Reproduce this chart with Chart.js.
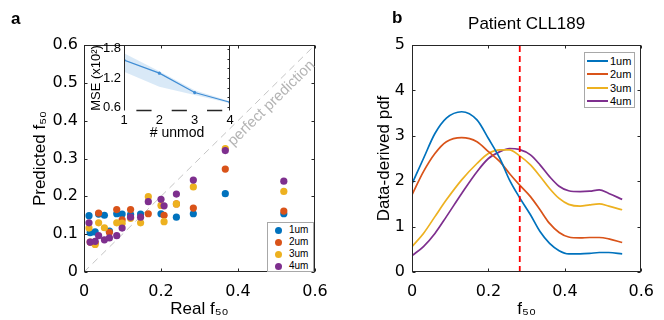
<!DOCTYPE html>
<html>
<head>
<meta charset="utf-8">
<script src="https://cdn.jsdelivr.net/npm/chart.js@4/dist/chart.umd.min.js"></script>
<style>
  html, body { margin: 0; padding: 0; background: #fff; }
  #wrap { position: relative; width: 664px; height: 320px; overflow: hidden; font-family: 'Liberation Sans', Arial, sans-serif; }
  canvas { position: absolute; }
  .panel { position: absolute; font-weight: bold; font-size: 17px; line-height: 17px; color: #000; }
  .legend { position: absolute; background: #fff; border: 1px solid #a8a8a8; box-sizing: border-box; }
  .legend .row { position: absolute; left: 0; right: 0; height: 12px; }
  .legend .mark { position: absolute; }
  .legend .txt { position: absolute; color: #000; white-space: nowrap; }
</style>
</head>
<body>
<div id="wrap">
  <canvas id="scatterChart" width="340" height="320" style="left:0;top:0"></canvas>
  <canvas id="insetChart" width="240" height="150" style="left:0;top:0"></canvas>
  <canvas id="pdfChart" width="324" height="320" style="left:340px;top:0"></canvas>
  <div class="panel" style="left:11px;top:10px">a</div>
  <div class="panel" style="left:392px;top:9px">b</div>
  <div class="legend" id="scatterLegend" style="left:267px;top:222px;width:47px;height:50px"></div>
  <div class="legend" id="pdfLegend" style="left:584px;top:52px;width:51px;height:56px"></div>
</div>
<script>
// ---- panel a: real vs predicted f50 ----
const realF50 = [0.013, 0.016, 0.029, 0.038, 0.053, 0.066, 0.085, 0.099, 0.121, 0.147, 0.167, 0.200, 0.208, 0.240, 0.284, 0.367, 0.519];
const pred1um = [0.149, 0.104, 0.106, 0.153, 0.150, 0.108, 0.154, 0.153, 0.152, 0.153, null, 0.154, null, 0.145, 0.154, 0.207, 0.154];
const pred2um = [null, 0.079, 0.076, 0.156, null, 0.105, 0.165, 0.138, 0.165, null, 0.154, null, 0.150, 0.180, 0.169, 0.272, 0.161];
const pred3um = [0.116, null, 0.073, 0.130, 0.117, null, 0.130, 0.129, 0.142, 0.130, 0.199, 0.176, 0.133, 0.180, 0.225, 0.326, 0.213];
const pred4um = [0.130, 0.079, 0.081, 0.096, 0.085, 0.090, 0.096, 0.116, 0.145, 0.145, 0.186, 0.192, 0.175, 0.206, 0.243, 0.321, 0.240];
const perfectLine = [0, 0.6];

const seriesLabels = ['1um', '2um', '3um', '4um'];
const seriesColors = ['#0072BD', '#D95319', '#EDB120', '#7E2F8E'];

// inset: MSE vs number of unmodified
const unmodCount = [1, 2, 3, 4];
const mseMean = [1.57, 1.30, 0.90, 0.70];
const mseUpper = [1.71, 1.34, 0.95, 0.72];
const mseLower = [1.33, 1.02, 0.85, 0.68];
const mseTicks = [0.6, 1.2, 1.8];
const mseMinorTicks = [0.6, 0.8, 1.0, 1.2, 1.4, 1.6, 1.8];

// ---- panel b: data-derived pdf ----
const pdfX = [0, 0.03, 0.06, 0.09, 0.13, 0.17, 0.20, 0.23, 0.255, 0.28, 0.31, 0.335, 0.36, 0.385, 0.41, 0.44, 0.465, 0.49, 0.515, 0.55];
const pdf1um = [1.94, 2.50, 3.05, 3.39, 3.53, 3.35, 2.94, 2.50, 2.03, 1.66, 1.26, 0.89, 0.63, 0.47, 0.40, 0.40, 0.41, 0.43, 0.43, 0.40];
const pdf2um = [1.70, 2.21, 2.61, 2.87, 2.96, 2.87, 2.65, 2.43, 2.17, 1.93, 1.66, 1.37, 1.07, 0.87, 0.77, 0.75, 0.76, 0.76, 0.73, 0.65];
const pdf3um = [0.56, 0.85, 1.22, 1.59, 2.03, 2.39, 2.61, 2.69, 2.69, 2.57, 2.36, 2.11, 1.84, 1.62, 1.49, 1.45, 1.48, 1.50, 1.45, 1.37];
const pdf4um = [0.36, 0.56, 0.85, 1.22, 1.73, 2.21, 2.50, 2.65, 2.72, 2.70, 2.58, 2.36, 2.10, 1.89, 1.79, 1.77, 1.78, 1.81, 1.73, 1.60];
const patientF50 = 0.282;

Chart.defaults.font.family = "'Liberation Sans', Arial, 'DejaVu Sans', sans-serif";
Chart.defaults.color = '#000';
const tickFont = { family: "'DejaVu Sans', sans-serif", size: 16 };

function toPoints(xs, ys) {
  return xs.map((x, i) => ({ x, y: ys[i] })).filter((p) => p.y !== null);
}

// closed box with short inward ticks, like matlab axes
const boxAxes = {
  id: 'boxAxes',
  afterDatasetsDraw(chart) {
    const { ctx, chartArea: a, scales } = chart;
    const len = 3;
    const L = Math.round(a.left) + 0.5, R = Math.round(a.right) - 0.5;
    const T = Math.round(a.top) + 0.5, B = Math.round(a.bottom) - 0.5;
    ctx.save();
    ctx.strokeStyle = '#262626';
    ctx.lineWidth = 1;
    ctx.beginPath();
    scales.x.ticks.forEach((t) => {
      const px = Math.round(scales.x.getPixelForValue(t.value)) + 0.5;
      ctx.moveTo(px, B); ctx.lineTo(px, B - len);
      ctx.moveTo(px, T); ctx.lineTo(px, T + len);
    });
    scales.y.ticks.forEach((t) => {
      const py = Math.round(scales.y.getPixelForValue(t.value)) + 0.5;
      ctx.moveTo(L, py); ctx.lineTo(L + len, py);
      ctx.moveTo(R, py); ctx.lineTo(R - len, py);
    });
    ctx.stroke();
    ctx.strokeRect(L, T, R - L, B - T);
    ctx.restore();
  }
};

const diagonalLabel = {
  id: 'diagonalLabel',
  afterDatasetsDraw(chart) {
    const { ctx, scales } = chart;
    const x0 = scales.x.getPixelForValue(0), y0 = scales.y.getPixelForValue(0);
    const x1 = scales.x.getPixelForValue(0.6), y1 = scales.y.getPixelForValue(0.6);
    const angle = Math.atan2(y1 - y0, x1 - x0);
    ctx.save();
    ctx.translate(scales.x.getPixelForValue(0.487), scales.y.getPixelForValue(0.446));
    ctx.rotate(angle);
    ctx.font = "15px 'Liberation Sans', Arial, sans-serif";
    ctx.fillStyle = '#b4b4b4';
    ctx.textAlign = 'center';
    ctx.textBaseline = 'middle';
    ctx.fillText('perfect prediction', 0, 0);
    ctx.restore();
  }
};

const predSeries = [pred1um, pred2um, pred3um, pred4um];

new Chart(document.getElementById('scatterChart'), {
  type: 'scatter',
  data: {
    datasets: [
      {
        label: 'perfect',
        type: 'line',
        data: toPoints(perfectLine, perfectLine),
        borderColor: '#c4c4c4',
        borderWidth: 1,
        borderDash: [7, 5],
        pointRadius: 0,
        order: 10
      },
      ...predSeries.map((ys, i) => ({
        label: seriesLabels[i],
        data: toPoints(realF50, ys),
        backgroundColor: seriesColors[i],
        borderWidth: 0,
        pointRadius: 3.6,
        order: 4 - i
      }))
    ]
  },
  options: {
    responsive: false,
    animation: false,
    events: [],
    layout: { padding: { top: 45, right: 25, bottom: 0, left: 0 } },
    plugins: { legend: { display: false }, tooltip: { enabled: false } },
    scales: {
      x: {
        type: 'linear', min: 0, max: 0.6,
        afterFit(s) { s.height = 48; },
        ticks: { stepSize: 0.2, padding: 10, font: tickFont, color: '#000' },
        grid: { display: false, drawTicks: false },
        border: { display: false },
        title: { display: true, text: 'Real f₅₀', font: { size: 17 }, color: '#000', padding: { top: 0, bottom: 0 } }
      },
      y: {
        min: 0, max: 0.6,
        afterFit(s) { s.width = 84; },
        ticks: { stepSize: 0.1, padding: 6, font: tickFont, color: '#000' },
        grid: { display: false, drawTicks: false },
        border: { display: false },
        title: { display: true, text: 'Predicted f₅₀', font: { size: 17 }, color: '#000', padding: { top: 30, bottom: 0 } }
      }
    }
  },
  plugins: [boxAxes, diagonalLabel]
});

// inset axes: left, right, top lines, minor ticks on the right and a broken bottom line
const insetFrame = {
  id: 'insetFrame',
  afterDatasetsDraw(chart) {
    const { ctx, chartArea: a, scales } = chart;
    const L = Math.round(a.left) + 0.5, R = Math.round(a.right) - 0.5;
    const T = Math.round(a.top) + 0.5, B = Math.round(a.bottom) - 0.5;
    ctx.save();
    ctx.strokeStyle = '#262626';
    ctx.lineWidth = 1;
    ctx.beginPath();
    ctx.moveTo(L, B); ctx.lineTo(L, T); ctx.lineTo(R, T); ctx.lineTo(R, B);
    mseMinorTicks.forEach((v) => {
      const py = Math.round(scales.y.getPixelForValue(v)) + 0.5;
      ctx.moveTo(R, py); ctx.lineTo(R - 2, py);
    });
    ctx.stroke();
    ctx.lineWidth = 1.5;
    ctx.beginPath();
    [1, 2, 3].forEach((k) => {
      ctx.moveTo(scales.x.getPixelForValue(k + 0.35), B);
      ctx.lineTo(scales.x.getPixelForValue(k + 0.78), B);
    });
    ctx.stroke();
    ctx.restore();
  }
};

new Chart(document.getElementById('insetChart'), {
  type: 'line',
  data: {
    datasets: [
      {
        label: 'upper',
        data: toPoints(unmodCount, mseUpper),
        borderWidth: 0,
        pointRadius: 0,
        backgroundColor: 'rgba(120, 175, 225, 0.28)',
        fill: '+1',
        tension: 0
      },
      {
        label: 'lower',
        data: toPoints(unmodCount, mseLower),
        borderWidth: 0,
        pointRadius: 0,
        fill: false,
        tension: 0
      },
      {
        label: 'mean',
        data: toPoints(unmodCount, mseMean),
        borderColor: '#2a7fcf',
        backgroundColor: '#2a7fcf',
        borderWidth: 1.2,
        pointRadius: 1,
        fill: false,
        tension: 0
      }
    ]
  },
  options: {
    responsive: false,
    animation: false,
    events: [],
    layout: { padding: { top: 45, right: 10, bottom: 0, left: 0 } },
    plugins: { legend: { display: false }, tooltip: { enabled: false } },
    scales: {
      x: {
        type: 'linear', min: 1, max: 4,
        afterFit(s) { s.height = 39; },
        ticks: { stepSize: 1, padding: 2, font: { size: 13 }, color: '#000' },
        grid: { display: false, drawTicks: false },
        border: { display: false },
        title: { display: true, text: '# unmod', font: { size: 14 }, color: '#000', padding: { top: 0, bottom: 8 } }
      },
      y: {
        min: 0.52, max: 1.88,
        afterFit(s) { s.width = 124; },
        afterBuildTicks(s) { s.ticks = mseTicks.map((v) => ({ value: v })); },
        ticks: { padding: 3, font: { size: 13 }, color: '#000', callback: (v) => v.toFixed(1) },
        grid: { display: false, drawTicks: false },
        border: { display: false },
        title: { display: true, text: 'MSE (x10²)', font: { size: 13 }, color: '#000', padding: { top: 89, bottom: 0 } }
      }
    }
  },
  plugins: [insetFrame]
});

const pdfSeries = [pdf1um, pdf2um, pdf3um, pdf4um];

new Chart(document.getElementById('pdfChart'), {
  type: 'line',
  data: {
    datasets: [
      {
        label: 'patient',
        data: [{ x: patientF50, y: 0 }, { x: patientF50, y: 5 }],
        borderColor: '#ff0000',
        borderWidth: 1.8,
        borderDash: [6, 4],
        pointRadius: 0,
        order: 0
      },
      ...pdfSeries.map((ys, i) => ({
        label: seriesLabels[i],
        data: toPoints(pdfX, ys),
        borderColor: seriesColors[i],
        borderWidth: 1.7,
        pointRadius: 0,
        cubicInterpolationMode: 'monotone',
        fill: false,
        order: i + 1
      }))
    ]
  },
  options: {
    responsive: false,
    animation: false,
    events: [],
    layout: { padding: { top: 0, right: 22, bottom: 0, left: 0 } },
    plugins: {
      legend: { display: false },
      tooltip: { enabled: false },
      title: {
        display: true,
        fullSize: false,
        text: 'Patient CLL189',
        font: { size: 17, weight: 'normal' },
        color: '#000',
        padding: { top: 14, bottom: 10.6 }
      }
    },
    scales: {
      x: {
        type: 'linear', min: 0, max: 0.6,
        afterFit(s) { s.height = 48; },
        ticks: { stepSize: 0.2, padding: 10, font: tickFont, color: '#000' },
        grid: { display: false, drawTicks: false },
        border: { display: false },
        title: { display: true, text: 'f₅₀', font: { size: 17 }, color: '#000', padding: { top: 0, bottom: 0 } }
      },
      y: {
        min: 0, max: 5,
        afterFit(s) { s.width = 72; },
        ticks: { stepSize: 1, padding: 7, font: tickFont, color: '#000' },
        grid: { display: false, drawTicks: false },
        border: { display: false },
        title: { display: true, text: 'Data-derived pdf', font: { size: 17 }, color: '#000', padding: { top: 34, bottom: 0 } }
      }
    }
  },
  plugins: [boxAxes]
});

// html legends
function buildLegend(id, rowTops, drawMark, fontSize, textLeft) {
  const box = document.getElementById(id);
  seriesLabels.forEach((label, i) => {
    const row = document.createElement('div');
    row.className = 'row';
    row.style.top = rowTops[i] + 'px';
    const mark = document.createElement('div');
    mark.className = 'mark';
    drawMark(mark, seriesColors[i]);
    const txt = document.createElement('div');
    txt.className = 'txt';
    txt.style.left = textLeft + 'px';
    txt.style.fontSize = fontSize + 'px';
    txt.style.lineHeight = '12px';
    txt.textContent = label;
    row.appendChild(mark);
    row.appendChild(txt);
    box.appendChild(row);
  });
}

buildLegend('scatterLegend', [1, 13, 25, 37], (m, c) => {
  Object.assign(m.style, { left: '7px', top: '2.5px', width: '7px', height: '7px', borderRadius: '50%', background: c });
}, 10, 21);

buildLegend('pdfLegend', [1.5, 15, 28.5, 42], (m, c) => {
  Object.assign(m.style, { left: '2px', top: '5px', width: '21px', height: '2px', background: c });
}, 11, 25);
</script>
</body>
</html>
